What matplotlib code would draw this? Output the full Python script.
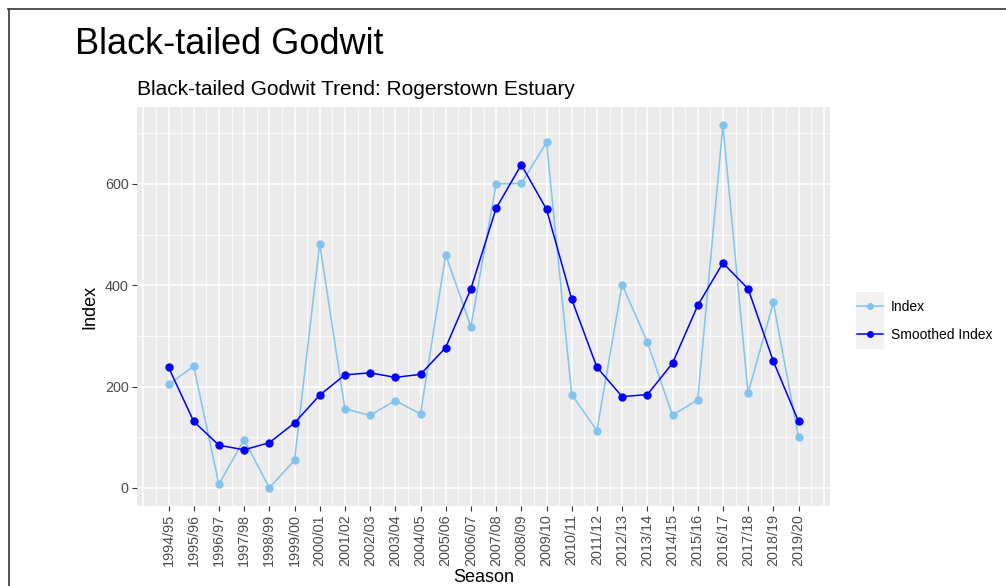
import numpy as np
import matplotlib
matplotlib.use("Agg")
import matplotlib.pyplot as plt
from matplotlib.lines import Line2D
from matplotlib.patches import Rectangle

plt.rcParams['font.family'] = ['Liberation Sans', 'DejaVu Sans']

seasons = ['1994/95', '1995/96', '1996/97', '1997/98', '1998/99', '1999/00',
           '2000/01', '2001/02', '2002/03', '2003/04', '2004/05', '2005/06',
           '2006/07', '2007/08', '2008/09', '2009/10', '2010/11', '2011/12',
           '2012/13', '2013/14', '2014/15', '2015/16', '2016/17', '2017/18',
           '2018/19', '2019/20']
index_vals = [204, 240, 7, 95, 0, 54, 482, 156, 143, 172, 146, 460, 318,
              600, 601, 682, 184, 113, 401, 288, 143, 174, 716, 187, 366, 100]
smoothed_vals = [238, 131, 84, 75, 89, 128, 183, 223, 227, 218, 224, 277, 393,
                 552, 638, 550, 372, 238, 180, 184, 246, 360, 444, 393, 250, 131]

light = '#82C3F0'
dark = '#0000FF'

W, H = 1006, 586
fig = plt.figure(figsize=(W / 100, H / 100), dpi=100)
ax = fig.add_axes([137 / W, 1 - 506 / H, 693 / W, 399 / H])

x = np.arange(len(seasons))
ax.set_facecolor('#EBEBEB')
for s in ax.spines.values():
    s.set_visible(False)

ax.plot(x, index_vals, color=light, lw=1.1, marker='o', ms=5, zorder=3)
ax.plot(x, smoothed_vals, color=dark, lw=1.1, marker='o', ms=5, zorder=4)

ax.set_xlim(-1.25, len(seasons) + 0.25)
ax.set_ylim(-36, 752)

ax.set_xticks(x)
ax.set_xticklabels(seasons, rotation=90)
ax.set_xticks(np.arange(-0.5, len(seasons), 1.0), minor=True)
ax.set_yticks([0, 200, 400, 600])
ax.set_yticks([100, 300, 500, 700], minor=True)

ax.grid(which='major', color='white', lw=1.1, zorder=0)
ax.grid(which='minor', color='white', lw=0.55, zorder=0)
for gx in (-1, len(seasons)):
    ax.axvline(gx, color='white', lw=1.1, zorder=0)
ax.set_axisbelow(True)

ax.tick_params(which='major', length=3.5, width=0.8, color='#333333',
               labelsize=10.4, labelcolor='#4D4D4D', pad=2.5)
ax.tick_params(which='minor', length=0)

ax.set_xlabel('Season', fontsize=13, labelpad=2)
ax.set_ylabel('Index', fontsize=13, labelpad=5)

fig.text(75 / W, 1 - 54 / H, 'Black-tailed Godwit', fontsize=26,
         ha='left', va='baseline')
fig.text(137 / W, 1 - 95 / H, 'Black-tailed Godwit Trend: Rogerstown Estuary',
         fontsize=15, ha='left', va='baseline')

# legend
fig.patches.append(Rectangle((856 / W, 1 - 349 / H), 28 / W, 57 / H,
                             transform=fig.transFigure, facecolor='#F2F2F2',
                             edgecolor='none', zorder=0))
handles = [Line2D([], [], color=light, lw=1.1, marker='o', ms=4),
           Line2D([], [], color=dark, lw=1.1, marker='o', ms=4)]
fig.legend(handles, ['Index', 'Smoothed Index'], loc='center left',
           bbox_to_anchor=(857 / W, 1 - 321 / H), frameon=False,
           fontsize=10, handlelength=1.85, handletextpad=0.6,
           labelspacing=1.05, borderpad=0, borderaxespad=0)

# frame lines at top and left
fig.add_artist(Line2D([8 / W, 1], [1 - 9 / H, 1 - 9 / H], color='#444444',
                      lw=1.3, transform=fig.transFigure))
fig.add_artist(Line2D([8.5 / W, 8.5 / W], [0, 1 - 9 / H], color='#444444',
                      lw=1.3, transform=fig.transFigure))

fig.savefig('out.png', dpi=100)
